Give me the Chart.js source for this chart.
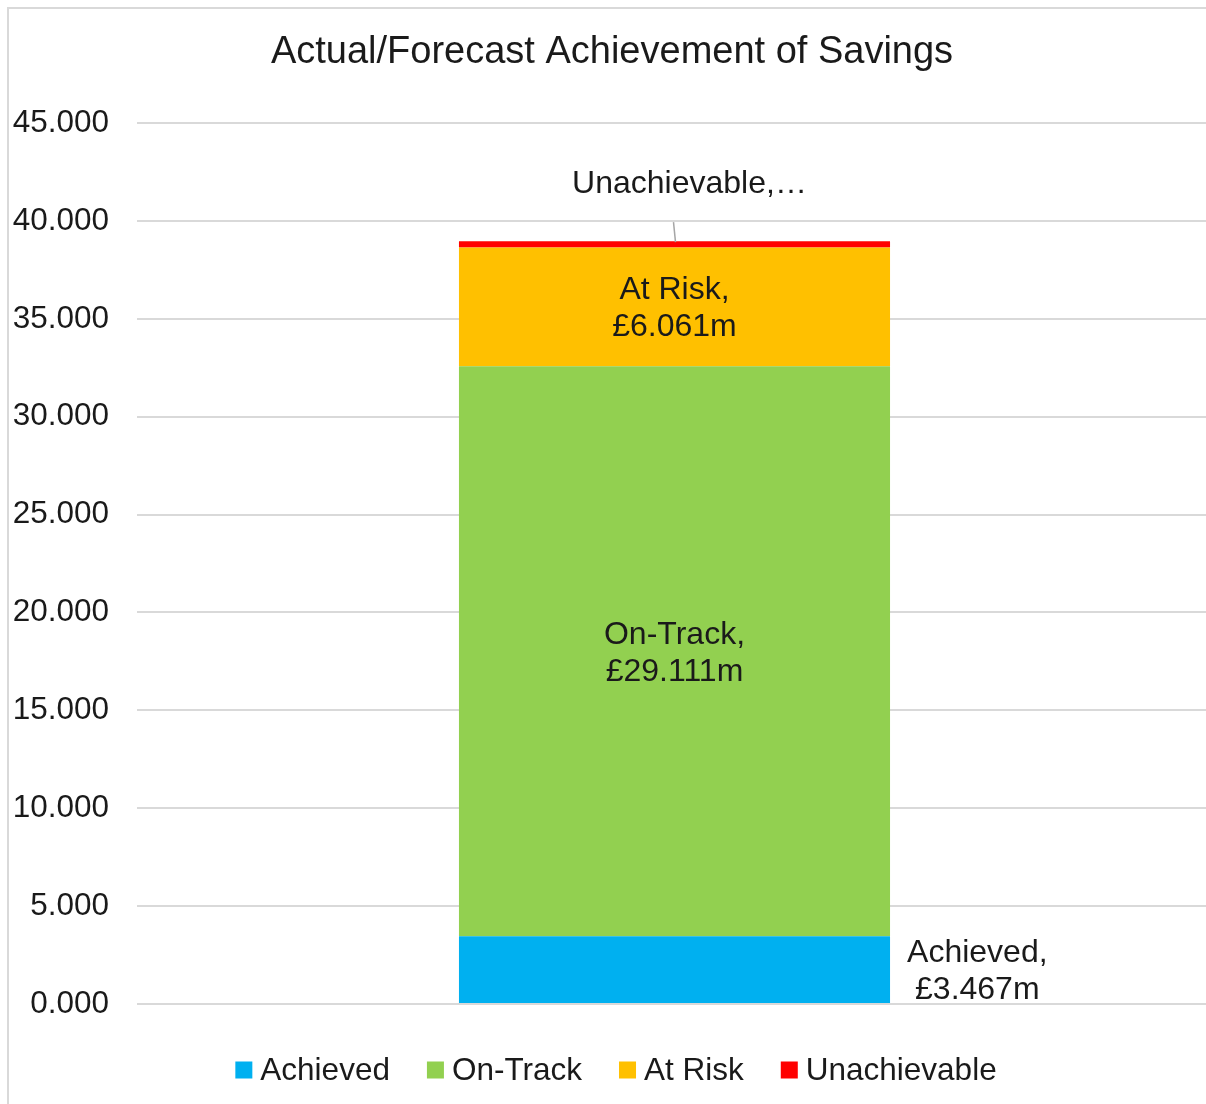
<!DOCTYPE html>
<html>
<head>
<meta charset="utf-8">
<script src="https://cdn.jsdelivr.net/npm/chart.js@4"></script>
<style>
  html, body { margin: 0; padding: 0; background: #fff; overflow: hidden; width: 1206px; height: 1104px; }
  #wrap { position: absolute; left: 7px; top: 7px; width: 1215px; height: 1097px; border-left: 2px solid #d9d9d9; border-top: 2px solid #d9d9d9; }
  canvas { display: block; }
</style>
</head>
<body>
<div id="wrap"><canvas id="c" width="1215" height="1097"></canvas></div>
<script>
const categories = [''];
const seriesNames = ['Achieved', 'On-Track', 'At Risk', 'Unachievable'];
const achieved = [3.467];
const onTrack = [29.111];
const atRisk = [6.061];
const unachievable = [0.33];
const labelTexts = [
  ['Achieved,', '£3.467m'],
  ['On-Track,', '£29.111m'],
  ['At Risk,', '£6.061m'],
  ['Unachievable,…']
];
const colors = ['#00B0F0', '#92D050', '#FFC000', '#FF0000'];
const titleText = 'Actual/Forecast Achievement of Savings';

const FONT = "'Liberation Sans', Arial, sans-serif";
const TXT = '#1a1a1a';

const labelPlugin = {
  id: 'segLabels',
  afterDatasetsDraw(chart) {
    const ctx = chart.ctx;
    ctx.save();
    ctx.font = '32px ' + FONT;
    ctx.fillStyle = TXT;
    ctx.textAlign = 'center';
    ctx.textBaseline = 'middle';
    const lh = 37, dy = 2;
    chart.data.datasets.forEach((ds, i) => {
      const el = chart.getDatasetMeta(i).data[0];
      const lines = labelTexts[i];
      const top = Math.min(el.y, el.base), bot = Math.max(el.y, el.base);
      const cy = (top + bot) / 2 + dy;
      const cx = el.x;
      if (i === 0) {
        const w = Math.max(...lines.map(l => ctx.measureText(l).width));
        const x = cx + el.width / 2 + 17 + w / 2;
        lines.forEach((l, k) => ctx.fillText(l, x, cy + (k - (lines.length - 1) / 2) * lh));
      } else if (i === 3) {
        ctx.fillText(lines[0], cx + 15, top - 57);
        ctx.strokeStyle = '#a6a6a6';
        ctx.lineWidth = 1.5;
        ctx.beginPath();
        ctx.moveTo(cx - 1, top - 19);
        ctx.lineTo(cx + 1, top + 1);
        ctx.stroke();
      } else {
        lines.forEach((l, k) => ctx.fillText(l, cx, cy + (k - (lines.length - 1) / 2) * lh));
      }
    });
    ctx.restore();
  }
};

const legendPlugin = {
  id: 'customLegend',
  afterDraw(chart) {
    const ctx = chart.ctx;
    ctx.save();
    ctx.font = '31.5px ' + FONT;
    ctx.textBaseline = 'middle';
    const box = 17, gapText = 8, gapItem = 37;
    const widths = seriesNames.map(n => box + gapText + ctx.measureText(n).width);
    const total = widths.reduce((a, b) => a + b, 0) + gapItem * (seriesNames.length - 1);
    let x = 616 - 9 - total / 2;
    const y = 1070 - 9;
    seriesNames.forEach((n, i) => {
      ctx.fillStyle = colors[i];
      ctx.fillRect(x, y - box / 2, box, box);
      ctx.fillStyle = TXT;
      ctx.textAlign = 'left';
      ctx.fillText(n, x + box + gapText, y + 1);
      x += widths[i] + gapItem;
    });
    ctx.restore();
  }
};

const datasets = [achieved, onTrack, atRisk, unachievable].map((d, i) => ({
  label: seriesNames[i],
  data: d,
  backgroundColor: colors[i],
  borderWidth: 0,
  categoryPercentage: 1,
  barPercentage: 0.401
}));

new Chart(document.getElementById('c'), {
  type: 'bar',
  data: { labels: categories, datasets },
  options: {
    responsive: false,
    animation: false,
    layout: { padding: { left: 3, right: 12, top: 0, bottom: 94 } },
    plugins: {
      legend: { display: false },
      tooltip: { enabled: false },
      title: {
        display: true,
        text: titleText,
        color: TXT,
        font: { family: FONT, size: 38, weight: 'normal' },
        padding: { top: 21, bottom: 47.5 }
      }
    },
    scales: {
      x: {
        stacked: true,
        ticks: { display: false },
        grid: { display: false },
        border: { display: false }
      },
      y: {
        stacked: true,
        min: 0,
        max: 45,
        afterFit(scale) { scale.width = 125; },
        ticks: {
          stepSize: 5,
          padding: 28,
          color: TXT,
          font: { family: FONT, size: 31.5 },
          callback: v => v.toFixed(3)
        },
        grid: { color: '#d9d9d9', lineWidth: 2, drawTicks: false },
        border: { display: false }
      }
    }
  },
  plugins: [labelPlugin, legendPlugin]
});
</script>
</body>
</html>
